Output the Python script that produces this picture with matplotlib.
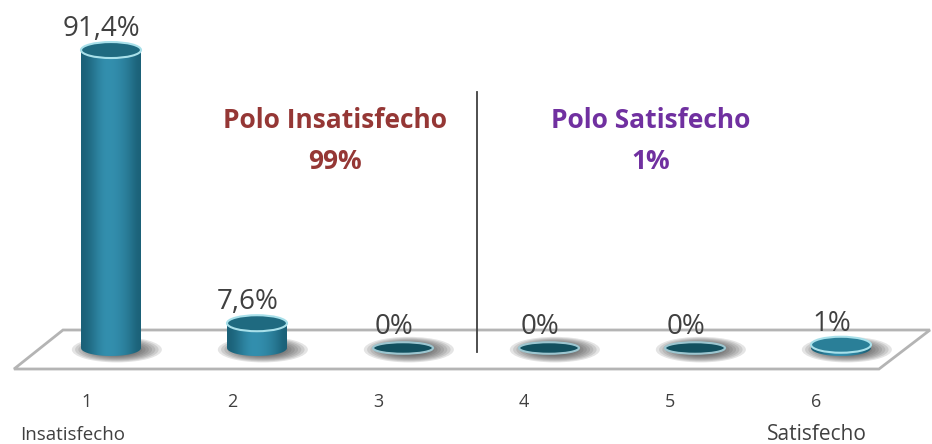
import numpy as np
import matplotlib
matplotlib.use("Agg")
import matplotlib.pyplot as plt
from matplotlib.patches import Ellipse, Polygon
from matplotlib.path import Path
from matplotlib.transforms import Affine2D

categories = [1, 2, 3, 4, 5, 6]
tick_labels = ["1", "2", "3", "4", "5", "6"]
values = [91.4, 7.6, 0, 0, 0, 1]
value_labels = ["91,4%", "7,6%", "0%", "0%", "0%", "1%"]

plt.rcParams['font.family'] = ['Open Sans', 'DejaVu Sans']

fig = plt.figure(figsize=(9.32, 4.44), dpi=100)
ax = fig.add_axes([0, 0, 1, 1])
ax.set_axis_off()

# 146 px between bars, 3.26 px for one percent
XLIM = (1 - 111 / 146, 1 + (932 - 111) / 146)
YLIM = (-(444 - 348) / 3.26, 348 / 3.26)

# pixel coordinates for the decoration (top left origin)
pix = Affine2D().scale(1, -1).translate(0, 444)

# floor of the chart
floor = Polygon([(14, 369), (63, 330), (930, 330), (879, 369)], closed=True,
                facecolor='white', edgecolor='#b4b4b4', lw=2, transform=pix, zorder=1)
ax.add_patch(floor)

BAR_W = 60 / 146
cap_h = 16 / 3.26
gradient = np.array([[0.0, 0.3, 0.7, 1.0, 1.0, 0.9, 0.7, 0.4, 0.0]])
cmap = matplotlib.colors.LinearSegmentedColormap.from_list("cyl", ['#1b6178', '#338fae'])

for x, v in zip(categories, values):
    # soft shadow on the floor
    for k in np.linspace(1.0, 0.35, 10):
        ax.add_patch(Ellipse((x + 0.04, -0.5), BAR_W * 1.5 * k, cap_h * 1.6 * k,
                             facecolor='#404040', edgecolor='none', alpha=0.14, zorder=2))
    if v > 0.5:
        t = np.linspace(np.pi, 2 * np.pi, 40)
        body = ax.bar(x, v, width=BAR_W, color='none', zorder=3)[0]
        xs = list(x + BAR_W / 2 * np.cos(t))
        ys = list(cap_h / 2 * np.sin(t))
        outline = list(zip(xs, ys)) + [(x + BAR_W / 2, v), (x - BAR_W / 2, v)]
        im = ax.imshow(gradient, cmap=cmap, aspect='auto', zorder=3, interpolation='bicubic',
                       extent=(x - BAR_W / 2, x + BAR_W / 2, -cap_h, v))
        im.set_clip_path(Path(outline + [outline[0]]), transform=ax.transData)
    face = '#12505f' if v == 0 else ('#2a7f98' if v < 5 else '#1f6a80')
    height = cap_h * 0.72 if v == 0 else cap_h
    edge = '#9cc6d0' if v == 0 else '#a8e0ea'
    ax.add_patch(Ellipse((x, v), BAR_W, height, facecolor=face, edgecolor=edge, lw=1.5, zorder=4))

for x, v, lab in zip(categories, values, value_labels):
    ax.text(x - 0.065, v + 2.2, lab, ha='center', va='bottom', fontsize=20, color='#404040', zorder=5)

# separator between the two poles
ax.plot([477, 477], [92, 352], color='#404040', lw=1.3, transform=pix, zorder=5)

ax.text(335, 120, "Polo Insatisfecho", ha='center', va='center', fontsize=19, fontweight='bold',
        color='#953735', transform=pix)
ax.text(335, 161, "99%", ha='center', va='center', fontsize=19, fontweight='bold',
        color='#953735', transform=pix)
ax.text(651, 120, "Polo Satisfecho", ha='center', va='center', fontsize=19, fontweight='bold',
        color='#7030a0', transform=pix)
ax.text(651, 161, "1%", ha='center', va='center', fontsize=19, fontweight='bold',
        color='#7030a0', transform=pix)

for x, lab in zip(categories, tick_labels):
    ax.text(x - 0.17, -16.6, lab, ha='center', va='center', fontsize=13, color='#404040')
ax.text(73, 435, "Insatisfecho", ha='center', va='center', fontsize=13.5, color='#404040', transform=pix)
ax.text(817, 434, "Satisfecho", ha='center', va='center', fontsize=15, color='#404040', transform=pix)

ax.set_xlim(*XLIM)
ax.set_ylim(*YLIM)

fig.savefig("out.png", dpi=100)
